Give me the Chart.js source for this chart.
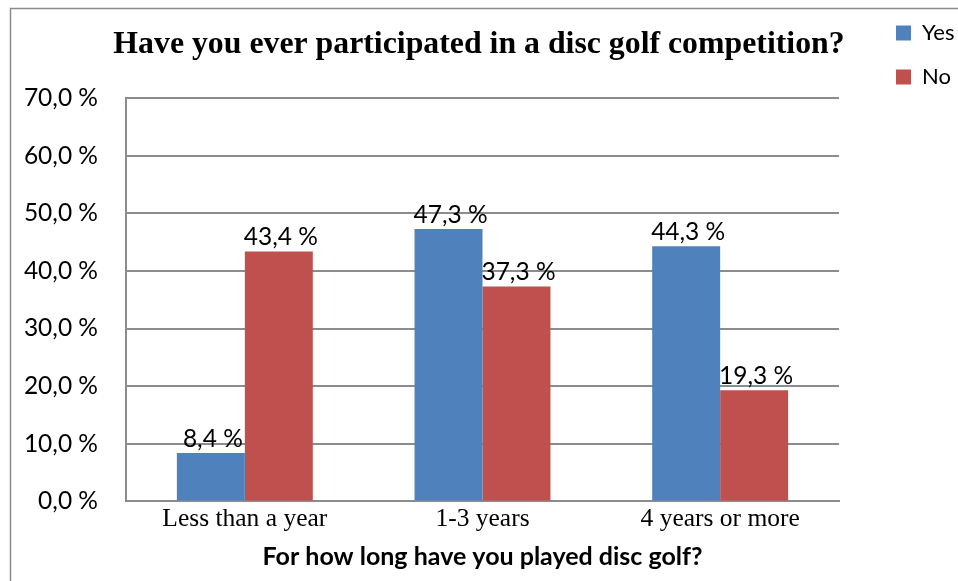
<!DOCTYPE html>
<html>
<head>
<meta charset="utf-8">
<script src="https://cdn.jsdelivr.net/npm/chart.js@4.4.0/dist/chart.umd.min.js"></script>
<style>
  html, body { margin: 0; padding: 0; background: #fff; }
  #wrap { position: relative; width: 958px; height: 581px; }
</style>
</head>
<body>
<div id="wrap"><canvas id="chart"></canvas></div>
<script>
const categories = ['Less than a year', '1-3 years', '4 years or more'];
const yesValues = [8.4, 47.3, 44.3];
const noValues = [43.4, 37.3, 19.3];
const seriesNames = ['Yes', 'No'];
const yTicks = [0, 10, 20, 30, 40, 50, 60, 70];

const pct = v => v.toFixed(1).replace('.', ',') + ' %';

// outer frame of the original chart object
const framePlugin = {
    id: 'frame',
    beforeDraw(chart) {
        const ctx = chart.ctx;
        ctx.save();
        ctx.strokeStyle = '#8c8c8c';
        ctx.lineWidth = 1.5;
        ctx.strokeRect(10.5, 8.5, 1200, 1200);
        ctx.restore();
    }
};

// value labels on top of bars
const barLabels = {
    id: 'barLabels',
    afterDatasetsDraw(chart) {
        const ctx = chart.ctx;
        ctx.save();
        ctx.font = '24.5px Lato';
        ctx.fillStyle = '#000';
        ctx.textAlign = 'center';
        ctx.textBaseline = 'bottom';
        chart.data.datasets.forEach((ds, i) => {
            chart.getDatasetMeta(i).data.forEach((bar, j) => {
                ctx.fillText(pct(ds.data[j]), bar.x + 2, bar.y - 2);
            });
        });
        ctx.restore();
    }
};

Chart.defaults.color = '#000';
Chart.defaults.font.family = 'Lato';

new Chart(document.getElementById('chart'), {
    type: 'bar',
    data: {
        labels: categories,
        datasets: [
            { label: seriesNames[0], data: yesValues, backgroundColor: '#4F81BD' },
            { label: seriesNames[1], data: noValues, backgroundColor: '#C0504D' }
        ]
    },
    options: {
        responsive: true,
        maintainAspectRatio: false,
        animation: false,
        layout: { padding: { top: 0, right: 0, bottom: 2, left: 0 } },
        categoryPercentage: 0.572,
        barPercentage: 1,
        plugins: {
            title: {
                display: true,
                text: 'Have you ever participated in a disc golf competition?',
                font: { family: 'Liberation Serif', size: 31.8, weight: 'bold' },
                color: '#000',
                padding: { top: 26, bottom: 34 }
            },
            legend: {
                position: 'right',
                align: 'start',
                maxWidth: 84,
                labels: {
                    font: { size: 22 },
                    boxWidth: 15,
                    boxHeight: 15,
                    padding: 22
                }
            },
            tooltip: { enabled: false }
        },
        scales: {
            x: {
                grid: { display: false, drawTicks: false },
                border: { display: true, color: '#8c8c8c', width: 2 },
                ticks: { font: { family: 'Liberation Serif', size: 25.5 }, padding: 3 },
                title: {
                    display: true,
                    text: 'For how long have you played disc golf?',
                    font: { size: 25, weight: 'bold' },
                    padding: { top: 4, bottom: 7 }
                }
            },
            y: {
                min: 0,
                max: 70,
                afterBuildTicks(scale) { scale.ticks = yTicks.map(v => ({ value: v })); },
                afterFit(scale) { scale.width = 126; },
                grid: { color: '#8c8c8c', lineWidth: 2, drawTicks: false },
                border: { display: true, color: '#8c8c8c', width: 2 },
                ticks: { font: { size: 24.5 }, padding: 28, callback: v => pct(v) }
            },
            gap: {
                type: 'linear',
                position: 'right',
                grid: { display: false, drawTicks: false },
                border: { display: false },
                ticks: { display: false },
                afterFit(scale) { scale.width = 35; }
            }
        }
    },
    plugins: [framePlugin, barLabels]
});
</script>
</body>
</html>
